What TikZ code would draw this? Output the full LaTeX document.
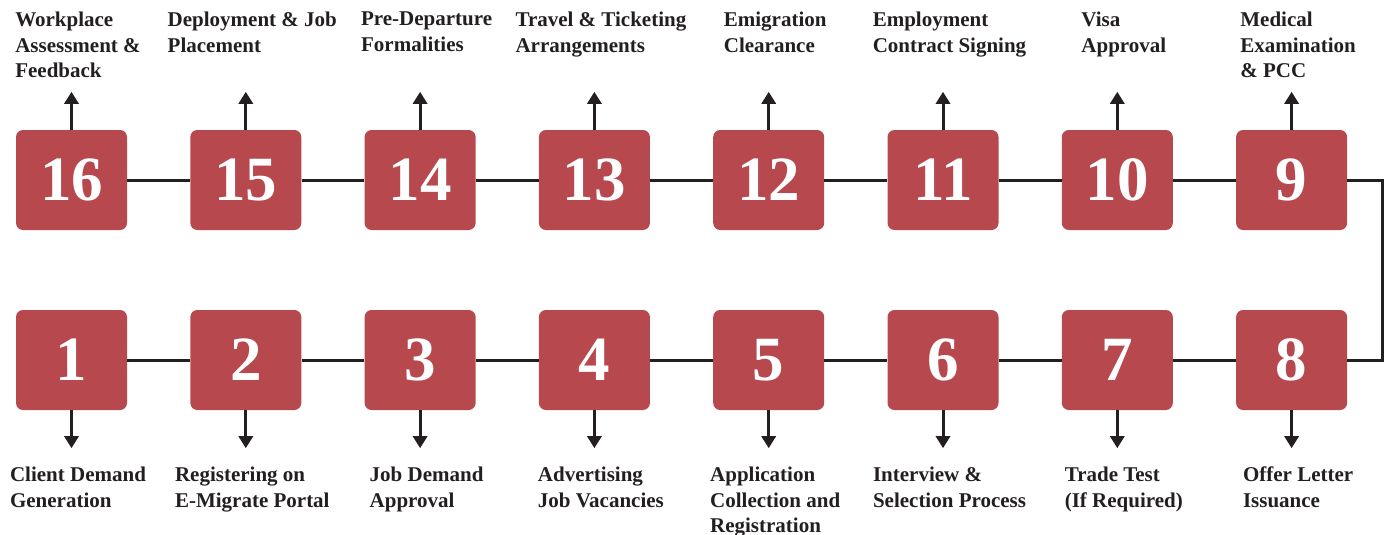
\documentclass[tikz,border=0pt]{standalone}
\usepackage{fontspec}
\setmainfont{Liberation Serif}
\usetikzlibrary{arrows.meta}
\definecolor{boxred}{RGB}{183,72,78}
\definecolor{ink}{RGB}{35,31,32}
\begin{document}
\begin{tikzpicture}[x=1pt,y=1pt,
  stepbox/.style={fill=boxred, rounded corners=7pt, minimum width=111pt, minimum height=100pt, inner sep=0pt, text=white, font=\fontsize{63}{63}\selectfont\bfseries},
  lbl/.style={align=left, inner sep=0pt, text=ink, font=\fontsize{21}{25.5}\selectfont\bfseries},
  conn/.style={draw=ink, line width=3pt},
  arr/.style={draw=ink, line width=3pt, -{Triangle[width=14pt,length=12pt]}}]
\useasboundingbox (0,0) rectangle (1389,-535);
% top row
\foreach \i/\n/\t in {0/16/{Workplace\\Assessment \&\\Feedback},
                      1/15/{Deployment \& Job\\Placement},
                      2/14/{Pre-Departure\\Formalities},
                      3/13/{Travel \& Ticketing\\Arrangements},
                      4/12/{Emigration\\Clearance},
                      5/11/{Employment\\Contract Signing},
                      6/10/{Visa\\Approval},
                      7/9/{Medical\\Examination\\\& PCC}}{
  \node[stepbox] (b\n) at ({71.5+\i*174.3},-180) {\n};
  \draw[arr] (b\n.north) -- ++(0,38) coordinate (tip\n);
  \node[lbl, anchor=north] (l\n) at ({78+\i*174.3},-12) {\t};
}
% bottom row
\foreach \i/\n/\t in {0/1/{Client Demand\\Generation},
                      1/2/{Registering on\\E-Migrate Portal},
                      2/3/{Job Demand\\Approval},
                      3/4/{Advertising\\Job Vacancies},
                      4/5/{Application\\Collection and\\Registration},
                      5/6/{Interview \&\\Selection Process},
                      6/7/{Trade Test\\(If Required)},
                      7/8/{Offer Letter\\Issuance}}{
  \node[stepbox] (b\n) at ({71.5+\i*174.3},-360) {\n};
  \draw[arr] (b\n.south) -- ++(0,-38) coordinate (tip\n);
  \node[lbl, anchor=north] (l\n) at ({78+\i*174.3},-467) {\t};
}
% connectors
\foreach \a/\b in {16/15,15/14,14/13,13/12,12/11,11/10,10/9,1/2,2/3,3/4,4/5,5/6,6/7,7/8}{
  \draw[conn] (b\a.east) -- (b\b.west);
}
\coordinate (rc) at (1382,-180);
\draw[conn] (b9.east) -- (rc) |- (b8.east);
\end{tikzpicture}
\end{document}
